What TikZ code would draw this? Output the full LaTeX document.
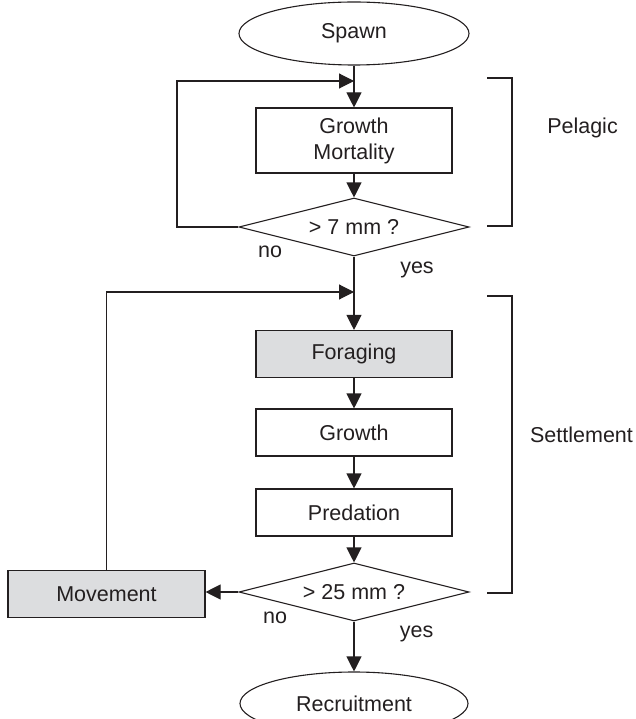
\documentclass[tikz,border=0pt]{standalone}
\usepackage{fontspec}
\setmainfont{Liberation Sans}
\usetikzlibrary{shapes.geometric,arrows.meta}
\definecolor{boxgray}{RGB}{220,221,223}
\definecolor{ink}{RGB}{35,31,32}
\begin{document}
\begin{tikzpicture}[x=1pt,y=-1pt,
  every node/.style={font=\fontsize{21.5}{26}\selectfont, text=ink},
  proc/.style={draw=ink, line width=1.1pt, rectangle, minimum width=196pt, minimum height=47pt, inner sep=0pt, align=center},
  gproc/.style={proc, fill=boxgray},
  term/.style={draw=ink, line width=1.1pt, ellipse, minimum width=230pt, minimum height=63pt, inner sep=0pt},
  decis/.style={draw=ink, line width=1.1pt, diamond, aspect=4, minimum width=230pt, minimum height=58pt, inner sep=0pt},
  arr/.style={draw=ink, line width=1.1pt, -{Triangle[length=15pt,width=15pt]}},
  plain/.style={draw=ink, line width=1.1pt},
  lbl/.style={inner sep=0pt}]
\useasboundingbox (0,0) rectangle (636,719);

\node[term] (spawn) at (354,33.5) {Spawn};
\node[proc, minimum height=65pt] (gm) at (354,140.5) {Growth\\Mortality};
\node[decis] (d1) at (354,227) {> 7 mm ?};
\node[gproc] (forag) at (354,354) {Foraging};
\node[proc] (grow) at (354,432.5) {Growth};
\node[proc] (pred) at (354,512.5) {Predation};
\node[decis] (d2) at (354,592) {> 25 mm ?};
\node[gproc, minimum width=197pt] (move) at (106.5,594) {Movement};
\node[term, minimum width=228pt] (recr) at (354,703.5) {Recruitment};

\coordinate (j1) at (354,81);
\coordinate (c1) at (177,81);
\coordinate (j2) at (354,292);

\draw[arr] (spawn) -- (gm);
\draw[arr] (gm) -- (d1);
\draw[arr] (d1) -- (forag);
\draw[arr] (forag) -- (grow);
\draw[arr] (grow) -- (pred);
\draw[arr] (pred) -- (d2);
\draw[arr] (d2) -- (recr);
\draw[arr] (d2.west) -- (move.east |- d2.west);
\draw[arr] (d1.west) -| (c1) -- (j1);
\draw[arr] (move.north) |- (j2);

\node[lbl] (no1) at (270,251.5) {no};
\node[lbl] (yes1) at (417,269.5) {yes};
\node[lbl] (no2) at (275,618.3) {no};
\node[lbl] (yes2) at (416.7,634) {yes};

\draw[plain] (487,78) -- (512,78) -- (512,226) -- (487,226);
\draw[plain] (487,296) -- (512,296) -- (512,593) -- (487,593);
\node[lbl] (pel) at (582.5,128) {Pelagic};
\node[lbl] (set) at (581.5,435) {Settlement};
\end{tikzpicture}
\end{document}
